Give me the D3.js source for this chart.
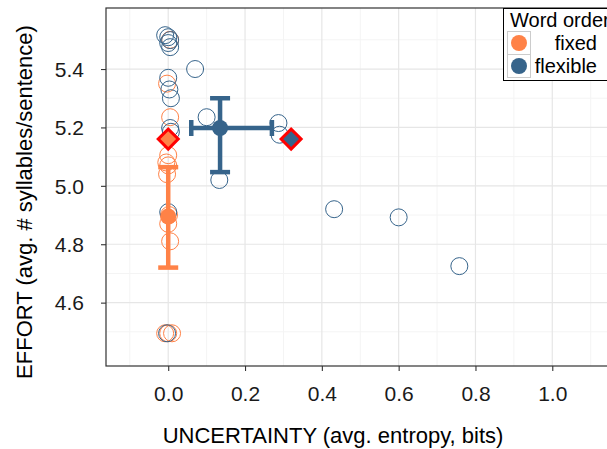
<!DOCTYPE html>
<html><head><meta charset="utf-8">
<script src="https://cdn.jsdelivr.net/npm/d3@7"></script>
<style>body{margin:0;background:#fff}svg{display:block}</style>
</head><body><svg id="c" width="607" height="449"></svg>
<script>
// ---- data ----
const groups = ["fixed", "flexible"];
const fixedX = [0.005, -0.003, 0.005, 0.0, -0.005, 0.0, -0.003, 0.0, 0.005, -0.008, 0.0, 0.01, 0.002];
const fixedY = [5.50, 5.35, 5.235, 5.105, 5.08, 5.07, 5.04, 4.87, 4.81, 4.495, 4.495, 4.495, 4.90];
const flexX = [-0.008, 0.0, 0.005, 0.0, 0.005, 0.07, 0.0, 0.003, 0.007, 0.005, 0.007, 0.10, 0.287, 0.29, 0.133, 0.0, 0.432, 0.60, 0.758, -0.003];
const flexY = [5.516, 5.509, 5.499, 5.489, 5.475, 5.40, 5.37, 5.33, 5.30, 5.198, 5.185, 5.235, 5.215, 5.175, 5.02, 4.91, 4.92, 4.892, 4.725, 4.495];
const meanX = [0.0, 0.135];
const meanY = [4.895, 5.198];
const errXlo = [0.0, 0.06];
const errXhi = [0.0, 0.27];
const errYlo = [4.72, 5.047];
const errYhi = [5.064, 5.30];
const diamondX = [0.0, 0.32];
const diamondY = [5.16, 5.16];
const xTicks = [0.0, 0.2, 0.4, 0.6, 0.8, 1.0, 1.2];
const xMinor = [-0.1, 0.1, 0.3, 0.5, 0.7, 0.9, 1.1];
const yTicks = [4.6, 4.8, 5.0, 5.2, 5.4];
const yMinor = [4.5, 4.7, 4.9, 5.1, 5.3, 5.5];
const colors = ["#FF8247", "#36648B"];

// ---- layout ----
const svg = d3.select("#c");
const L = 106, T = 8, B = 366, R = 660;
const x = d3.scaleLinear().domain([-0.162, (R - 168.3) / 384]).range([L, R]);
const y = d3.scaleLinear().domain([4.383, 5.609]).range([B, T]);
const font = "Liberation Sans, Arial, sans-serif";

const g = svg.append("g");
// minor grid
g.selectAll(".mx").data(xMinor).join("line").attr("x1", d => x(d)).attr("x2", d => x(d)).attr("y1", T).attr("y2", B).attr("stroke", "#F4F4F4").attr("stroke-width", 1);
g.selectAll(".my").data(yMinor).join("line").attr("y1", d => y(d)).attr("y2", d => y(d)).attr("x1", L).attr("x2", R).attr("stroke", "#F4F4F4").attr("stroke-width", 1);
// major grid
g.selectAll(".gx").data(xTicks).join("line").attr("x1", d => x(d)).attr("x2", d => x(d)).attr("y1", T).attr("y2", B).attr("stroke", "#E6E6E6").attr("stroke-width", 1.2);
g.selectAll(".gy").data(yTicks).join("line").attr("y1", d => y(d)).attr("y2", d => y(d)).attr("x1", L).attr("x2", R).attr("stroke", "#E6E6E6").attr("stroke-width", 1.2);

// axes
const xAxis = d3.axisBottom(x).tickValues(xTicks.filter(d => d <= 1.0)).tickFormat(d3.format(".1f")).tickSize(5).tickPadding(15);
const yAxis = d3.axisLeft(y).tickValues(yTicks).tickFormat(d3.format(".1f")).tickSize(5).tickPadding(17);
const gx = svg.append("g").attr("transform", `translate(0,${B})`).call(xAxis);
const gy = svg.append("g").attr("transform", `translate(${L},0)`).call(yAxis);
[gx, gy].forEach(a => {
  a.select(".domain").remove();
  a.selectAll(".tick line").attr("stroke", "#333").attr("stroke-width", 1.1);
  a.selectAll(".tick text").attr("fill", "#1a1a1a").style("font-family", font).style("font-size", "21px");
});
gy.selectAll(".tick text").attr("dy", "0.35em");

// panel border
svg.append("rect").attr("x", L).attr("y", T).attr("width", R - L).attr("height", B - T).attr("fill", "none").attr("stroke", "#333").attr("stroke-width", 1.2);

// points
const clipG = svg.append("g");
clipG.selectAll(".pf").data(fixedX.map((d, i) => [d, fixedY[i]])).join("circle")
  .attr("cx", d => x(d[0])).attr("cy", d => y(d[1])).attr("r", 8.5)
  .attr("fill", "none").attr("stroke", colors[0]).attr("stroke-width", 1);
clipG.selectAll(".pl").data(flexX.map((d, i) => [d, flexY[i]])).join("circle")
  .attr("cx", d => x(d[0])).attr("cy", d => y(d[1])).attr("r", 8.5)
  .attr("fill", "none").attr("stroke", colors[1]).attr("stroke-width", 1);

// error bars and means
groups.forEach((gname, i) => {
  const c = colors[i];
  const eg = svg.append("g");
  eg.append("line").attr("x1", x(meanX[i])).attr("x2", x(meanX[i])).attr("y1", y(errYlo[i])).attr("y2", y(errYhi[i])).attr("stroke", c).attr("stroke-width", 4.5);
  [errYlo[i], errYhi[i]].forEach(v => eg.append("line").attr("x1", x(meanX[i]) - 10).attr("x2", x(meanX[i]) + 10).attr("y1", y(v)).attr("y2", y(v)).attr("stroke", c).attr("stroke-width", 4.5));
  if (errXhi[i] > errXlo[i]) {
    eg.append("line").attr("y1", y(meanY[i])).attr("y2", y(meanY[i])).attr("x1", x(errXlo[i])).attr("x2", x(errXhi[i])).attr("stroke", c).attr("stroke-width", 4.5);
    [errXlo[i], errXhi[i]].forEach(v => eg.append("line").attr("y1", y(meanY[i]) - 8).attr("y2", y(meanY[i]) + 8).attr("x1", x(v)).attr("x2", x(v)).attr("stroke", c).attr("stroke-width", 4.5));
  }
  eg.append("circle").attr("cx", x(meanX[i])).attr("cy", y(meanY[i])).attr("r", 8).attr("fill", c);
  eg.append("path").attr("d", d3.symbol(d3.symbolSquare, 200)()).attr("transform", `translate(${x(diamondX[i])},${y(diamondY[i])}) rotate(45)`)
    .attr("fill", c).attr("stroke", "#FF0000").attr("stroke-width", 3);
});

// axis titles
svg.append("text").attr("x", 333).attr("y", 443).attr("text-anchor", "middle").style("font-family", font).style("font-size", "22px").attr("fill", "#000").text("UNCERTAINTY (avg. entropy, bits)");
svg.append("text").attr("transform", "translate(32,202) rotate(-90)").attr("text-anchor", "middle").style("font-family", font).style("font-size", "22px").attr("fill", "#000").text("EFFORT (avg. # syllables/sentence)");

// legend
const lg = svg.append("g");
lg.append("rect").attr("x", 503.5).attr("y", 8.5).attr("width", 130).attr("height", 72).attr("fill", "#fff").attr("stroke", "#000").attr("stroke-width", 1);
lg.append("text").attr("x", 510).attr("y", 27).style("font-family", font).style("font-size", "20px").attr("fill", "#000").text("Word order");
groups.forEach((gname, i) => {
  const cy = 43 + i * 23;
  lg.append("rect").attr("x", 507.5).attr("y", cy - 11.5).attr("width", 23).attr("height", 23).attr("fill", "#fff").attr("stroke", "#CCCCCC").attr("stroke-width", 1);
  lg.append("circle").attr("cx", 519).attr("cy", cy).attr("r", 8).attr("fill", colors[i]);
  lg.append("text").attr("x", 597).attr("y", cy + 7).attr("text-anchor", "end").style("font-family", font).style("font-size", "20px").attr("fill", "#000").text(gname);
});
</script></body></html>
